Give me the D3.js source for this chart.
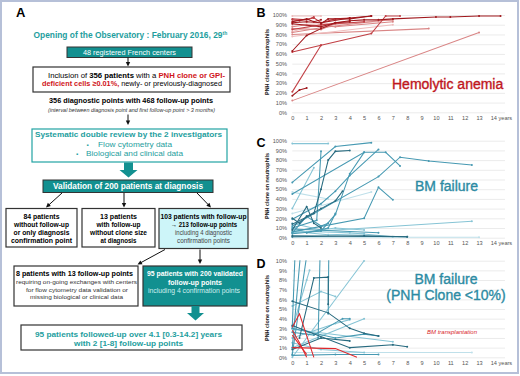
<!DOCTYPE html>
<html><head><meta charset="utf-8">
<script src="https://cdn.jsdelivr.net/npm/d3@7"></script>
<style>body{margin:0;background:#fff}svg{display:block;font-family:"Liberation Sans",Arial,sans-serif}</style>
</head><body><svg id="c" width="520" height="376"></svg>
<script>
// ---------- DATA ----------
const yearTicks = [0,1,2,3,4,5,6,7,8,9,10,11,12,13,14];
const pctTicksWide = [0,10,20,30,40,50,60,70,80,90,100];
const pctTicksLow = [0,1,2,3,4,5,6,7,8,9,10];

// Panel B: hemolytic anemia, [years, % PNH clone]
const hemolyticPatients = [
  [[0,12],[13,82]],
  [[0,80],[9.5,86]],
  [[0,78],[7,90]],
  [[0,90],[4,92],[7,95]],
  [[0,83],[1.5,89],[6,93]],
  [[0,88],[1,90],[3,88],[7,93]],
  [[0,82],[2,87],[6,94],[7,95]],
  [[0,99],[2,99]],
  [[0,86],[2,85],[3,91]],
  [[0,21],[2,69]],
  [[0,62],[2,69],[5.5,81],[6.5,99],[7.5,99]],
  [[0,85],[2,90],[5,93]],
  [[0,95],[0.5,94],[1.5,97],[2,92],[3,96],[4,97]],
  [[0,96],[1,95],[1.5,98]],
  [[0,17],[0.5,23],[1,25]],
  [[0,63],[1,79],[2,86],[3,92],[4,93]],
  [[0,92],[1,93],[2,92],[4,97],[5.5,99]],
  [[0,91],[2,88],[3,92],[4,94],[5,95],[6,95],[7,96],[10,98],[11,98],[13,99],[14.5,99]],
  [[0,93],[1,96],[1.5,93],[2,95]],
  [[2,91],[2.5,96],[4,96],[5.5,99]]
];
const hemolyticShades = "llxxxllxlmmmmmddddd d".replace(/ /g,"").split("");

// Panel C: BM failure
const bmfPatients = [
  [[0,0.5],[13,0.5]],
  [[0,25],[5.5,47]],
  [[0,47],[2.5,40]],
  [[0,97],[2.5,97]],
  [[0,30],[1.5,72]],
  [[0,5],[12.5,17]],
  [[0,7],[4,5],[7,1]],
  [[0,15],[2,8],[3,10],[5,8]],
  [[0,11],[1,5],[2.5,3],[5,4]],
  [[0,57],[3,94],[5.5,98]],
  [[0,45],[5,88],[6.5,88],[7.5,74]],
  [[0,19],[2,35],[3,48],[4,64],[6,91]],
  [[0,10],[1.7,18],[2,89]],
  [[0,12],[6,63],[7.5,83],[9.5,79],[12.5,75]],
  [[0,6],[5,20],[6,52],[7,39]],
  [[0,4],[2,7],[3,24],[4,66],[5,88]],
  [[0,9],[6,5]],
  [[0,5],[1,22],[2,12],[2.5,15]],
  [[1,5],[2.5,10],[3,25]],
  [[0,14],[1.5,25],[2,50],[2.5,80],[3,89],[4,90]],
  [[0,8],[1,32],[1.5,15],[2,10]],
  [[0,2],[8,1]],
  [[0,1],[5,2],[8,1]],
  [[0,20],[0.5,15],[1,22],[2,30],[3,38],[3.5,48]]
];
const bmfShades = "xxxllllllmmmmmmmmmmddddd".split("");

// Panel D: BM failure with PNH clone < 10%
const smallClonePatients = [
  [[0,0.5],[12.5,0.5]],
  [[0,0],[5,10]],
  [[0,1],[5,4]],
  [[0,2.9],[7,1.6]],
  [[0,1.5],[2,0.8],[5,0.5]],
  [[0,3],[1,8],[1.2,9]],
  [[0,2],[3,3.5],[4,3.9]],
  [[0,5.3],[2,6.8],[3,6.3]],
  [[0,3.2],[0.3,15]],
  [[0,1],[1,18]],
  [[1.8,2],[2,15]],
  [[0,0.3],[1,10.5]],
  [[0,3],[3,2],[5,2.4],[6,2.2]],
  [[0,2.6],[1.5,2.3],[3.5,4],[4,4]],
  [[0,0.2],[3,0.3],[6,0.3]],
  [[2.5,4.5],[2.6,20]],
  [[0.5,2],[1.5,8.2],[2.5,8.3],[2.5,5.5]],
  [[0,5.8],[2.5,4.6],[4,3.0],[5,2.5],[6,2.2]],
  [[0,3.3],[4,1],[7,1.3],[8,1.1]],
  [[0,0.8],[2,2],[4,1.7]]
];
const smallCloneShades = "xlllllllmmmmmmmmddddd".split("");
const transplantPatients = [
  [[0,3.1],[0.5,4.5],[1.5,0]],
  [[0,2.8],[0.5,1.5],[1,0]],
  [[0,1.0],[3,0.9],[4.5,0]],
  [[0,2.3],[1,0.3]]
];

// ---------- DRAW ----------
const svg = d3.select("#c");
const TEAL = "#129090", TEAL_T = "#1e9e9e", DARK = "#333";

// frame
svg.append("rect").attr("x",1).attr("y",1).attr("width",517).attr("height",372)
  .attr("fill","none").attr("stroke","#b6c0d8").attr("stroke-width",2);

function T(x,y,s,o={}){
  const t=svg.append("text").attr("x",x).attr("y",y).text(s)
    .attr("font-size",o.size||7).attr("font-weight",o.bold?"bold":"normal")
    .attr("fill",o.fill||"#000").attr("text-anchor",o.anchor||"middle");
  if(o.italic) t.attr("font-style","italic");
  if(o.w) t.attr("textLength",o.w).attr("lengthAdjust","spacingAndGlyphs");
  return t;
}
function box(x,y,w,h,fill,stroke,sw){
  svg.append("rect").attr("x",x).attr("y",y).attr("width",w).attr("height",h)
    .attr("fill",fill).attr("stroke",stroke).attr("stroke-width",sw||1);
}
function arrow(x1,y1,x2,y2){
  const a=Math.atan2(y2-y1,x2-x1),L=4.5,W=2.2,c=Math.cos(a),s=Math.sin(a);
  svg.append("line").attr("x1",x1).attr("y1",y1).attr("x2",x2-c*L*0.7).attr("y2",y2-s*L*0.7)
    .attr("stroke","#111").attr("stroke-width",1);
  const p=[[x2,y2],[x2-L*c+W*s,y2-L*s-W*c],[x2-L*c-W*s,y2-L*s+W*c]];
  svg.append("polygon").attr("points",p.map(d=>d.join(",")).join(" ")).attr("fill","#111");
}
function blockArrow(cx,y1,y2,sw,hw,hs){
  const p=[[cx-sw/2,y1],[cx+sw/2,y1],[cx+sw/2,hs],[cx+hw/2,hs],[cx,y2],[cx-hw/2,hs],[cx-sw/2,hs]];
  svg.append("polygon").attr("points",p.map(d=>d.join(",")).join(" ")).attr("fill",TEAL);
}

// ---- Panel A ----
T(16,17,"A",{size:13,bold:true,anchor:"start"});
const ttl=T(33.5,38,"Opening of the Observatory : February 2016, 29",{size:8.4,bold:true,fill:TEAL_T,anchor:"start"});
ttl.append("tspan").attr("font-size",5).attr("dy",-3).text("th");

box(67,47,125,10.5,TEAL,DARK);
T(129.5,54.8,"48 registered French centers",{size:7.3,fill:"#fff",w:93});
arrow(128,57.5,128,66.5);

box(33,67,197,25,"#fff",DARK,1.2);
const l1=T(48,77.5,"",{size:7.3,anchor:"start",w:177});
l1.append("tspan").text("Inclusion of ");
l1.append("tspan").attr("font-weight","bold").text("356 patients");
l1.append("tspan").text(" with a ");
l1.append("tspan").attr("font-weight","bold").attr("fill","#d0141a").text("PNH clone or GPI-");
const l2=T(42,86.3,"",{size:7.3,anchor:"start",w:180});
l2.append("tspan").attr("font-weight","bold").attr("fill","#d0141a").text("deficient cells \u22650.01%,");
l2.append("tspan").text(" newly- or previously-diagnosed");

T(131,103,"356 diagnostic points with 468 follow-up points",{size:7.4,bold:true,w:164});
T(131.5,111.8,"(interval between diagnosis point and first follow-up point > 3 months)",{size:5.2,italic:true,fill:"#333",w:167});
arrow(128,114.5,128,125);

box(32,129,195,33,"#fff","#22a3a3",1.2);
T(128.5,137.3,"Systematic double review by the 2 investigators",{size:7.8,bold:true,fill:TEAL_T,w:187});
T(87.5,146.7,"\u25AA",{size:6,fill:TEAL_T});
T(98,146.7,"Flow cytometry data",{size:8,fill:TEAL_T,anchor:"start",w:74});
T(77,156,"\u25AA",{size:6,fill:TEAL_T});
T(86,156,"Biological and clinical data",{size:8,fill:TEAL_T,anchor:"start",w:97});
blockArrow(128.5,162.5,177.5,9,18,170);

box(43,180,170,12.5,TEAL,DARK);
T(128,188.7,"Validation of 200 patients at diagnosis",{size:8.2,bold:true,fill:"#fff",w:150});
arrow(62,193,46,207.5);
arrow(124,193,124,207.5);
arrow(197,193,211,207.5);

box(6,208.5,71,38.5,"#fff",DARK,1.2);
[["84 patients",36],["without follow-up",55],["or only diagnosis",56],["confirmation point",61]]
  .forEach((d,i)=>T(41.5,219.3+i*8,d[0],{size:7,bold:true,w:d[1]}));
box(82,208.5,73,38.5,"#fff",DARK,1.2);
[["13 patients",37],["with follow-up",44],["without clone size",57],["at diagnosis",36]]
  .forEach((d,i)=>T(118.5,219.3+i*8,d[0],{size:7,bold:true,w:d[1]}));
box(159,208.5,89,40,"#cdf5f9",DARK,1.2);
T(203.5,219.3,"103 patients with follow-up",{size:7,bold:true,w:86});
T(204,227.2,"\u2192 213 follow-up points",{size:7,bold:true,w:66});
T(203.5,235.2,"including 4 diagnostic",{size:6.6,fill:"#444",w:57});
T(203.5,243.3,"confirmation points",{size:6.6,fill:"#444",w:53});
arrow(165,249.5,137.5,264.5);
arrow(200,249.5,200,264);

box(14,266,124,40,"#fff",DARK,1.2);
T(74.5,276,"8 patients with 13 follow-up points",{size:7,bold:true,w:117});
T(76.5,284,"requiring on-going exchanges with centers",{size:6.2,fill:"#333",w:121});
T(77,291.7,"for flow cytometry data validation or",{size:6.2,fill:"#333",w:102});
T(76.5,299.3,"missing biological or clinical data",{size:6.2,fill:"#333",w:93});

box(143,266,104,40,TEAL,DARK,1.2);
T(195,276,"95 patients with 200 validated",{size:7,bold:true,fill:"#fff",w:96});
T(195,284.7,"follow-up points",{size:7,bold:true,fill:"#fff",w:54});
T(194,293,"including 4 confirmation points",{size:6.6,fill:"#cfeeee",w:92});
blockArrow(195.5,306,320.5,8,17,313);

box(21,325,221,25,"#fff",DARK,1.2);
T(128.5,336.7,"95 patients followed-up over 4.1 [0.3-14.2] years",{size:8,bold:true,fill:TEAL_T,w:187});
T(128.5,346,"with 2 [1-8] follow-up points",{size:8,bold:true,fill:TEAL_T,w:109});

// ---- Right panels ----
const x = d3.scaleLinear().domain([0,14]).range([292.3,493.4]);
const gridRight = 505;
const redPal = {x:"#eebcbc",l:"#d98585",m:"#c13f44",d:"#a0181d"};
const tealPal = {x:"#bfe0ea",l:"#86c4d5",m:"#4699b2",d:"#276a7f"};
const line = d3.line();

function panel(id,label,yTop,yBot,domainMax,ticks,fmt,titleY){
  const y = d3.scaleLinear().domain([0,domainMax]).range([yBot,yTop]);
  const g = svg.append("g");
  const ay = g.append("g").attr("transform",`translate(${x(0)},0)`)
    .call(d3.axisLeft(y).tickValues(ticks).tickFormat(fmt).tickSize(-(gridRight-x(0))).tickPadding(5.3));
  ay.select(".domain").remove();
  ay.selectAll("line").attr("stroke","#e2e2e2").attr("stroke-width",0.7);
  ay.selectAll("text").attr("font-size",5.6).attr("fill","#555").attr("font-family","Liberation Sans, Arial");
  const ax = g.append("g").attr("transform",`translate(0,${yBot})`)
    .call(d3.axisBottom(x).tickValues(yearTicks).tickFormat(d=>d===14?"14 years":d).tickSize(0).tickPadding(3.4));
  ax.select(".domain").remove();
  ax.selectAll("text").attr("font-size",5.6).attr("fill","#555").attr("font-family","Liberation Sans, Arial")
    .filter(d=>d===14).attr("text-anchor","start").attr("x",-3.2);
  g.append("text").attr("transform",`translate(268.5,${titleY}) rotate(-90)`)
    .attr("text-anchor","middle").attr("font-size",5.4).attr("font-weight","bold").attr("fill","#222")
    .text("PNH clone on neutrophils");
  svg.append("text").attr("x",256.5).attr("y",label.y).attr("font-size",12.5).attr("font-weight","bold")
    .text(label.t);
  svg.append("clipPath").attr("id",id).append("rect")
    .attr("x",x(0)-3).attr("y",yTop-0.5).attr("width",gridRight-x(0)+10).attr("height",yBot-yTop+4);
  const plot = svg.append("g").attr("clip-path",`url(#${id})`);
  return {y,plot};
}
function drawSeries(p,series,shades,pal,marker){
  series.forEach((s,i)=>{
    const col = pal[shades[i]] || pal;
    const pts = s.map(d=>[x(d[0]),p.y(d[1])]);
    p.plot.append("path").attr("d",line(pts)).attr("fill","none").attr("stroke",col).attr("stroke-width",1.05);
    if(marker) p.plot.selectAll(null).data(pts).enter().append("circle")
      .attr("cx",d=>d[0]).attr("cy",d=>d[1]).attr("r",1).attr("fill",col);
  });
}
function bigLabel(xp,yp,s,col,anchor){
  svg.append("text").attr("x",xp).attr("y",yp).attr("font-size",14).attr("fill",col)
    .attr("stroke",col).attr("stroke-width",0.35).attr("text-anchor",anchor||"start").text(s);
}

const pB = panel("clipB",{t:"B",y:17},15,112.3,100,pctTicksWide,d=>d+"%",62);
drawSeries(pB,hemolyticPatients,hemolyticShades,redPal,true);
bigLabel(392,88.5,"Hemolytic anemia","#c0161c");

const pC = panel("clipC",{t:"C",y:147},140.7,237.7,100,pctTicksWide,d=>d+"%",186);
drawSeries(pC,bmfPatients,bmfShades,tealPal,true);
bigLabel(415,190.5,"BM failure","#2c8ba3");

const pD = panel("clipD",{t:"D",y:268},260.7,357.3,10,pctTicksLow,d=>d+"%",308);
drawSeries(pD,smallClonePatients,smallCloneShades,tealPal,true);
drawSeries(pD,transplantPatients,transplantPatients.map(()=>"r"),{r:"#e0282c"},false);
bigLabel(446,283.5,"BM failure","#2c8ba3","middle");
bigLabel(446,299.5,"(PNH Clone <10%)","#2c8ba3","middle");
svg.append("text").attr("x",427).attr("y",333.5).attr("font-size",6).attr("font-style","italic").attr("fill","#d8262b").text("BM transplantation");
</script></body></html>
